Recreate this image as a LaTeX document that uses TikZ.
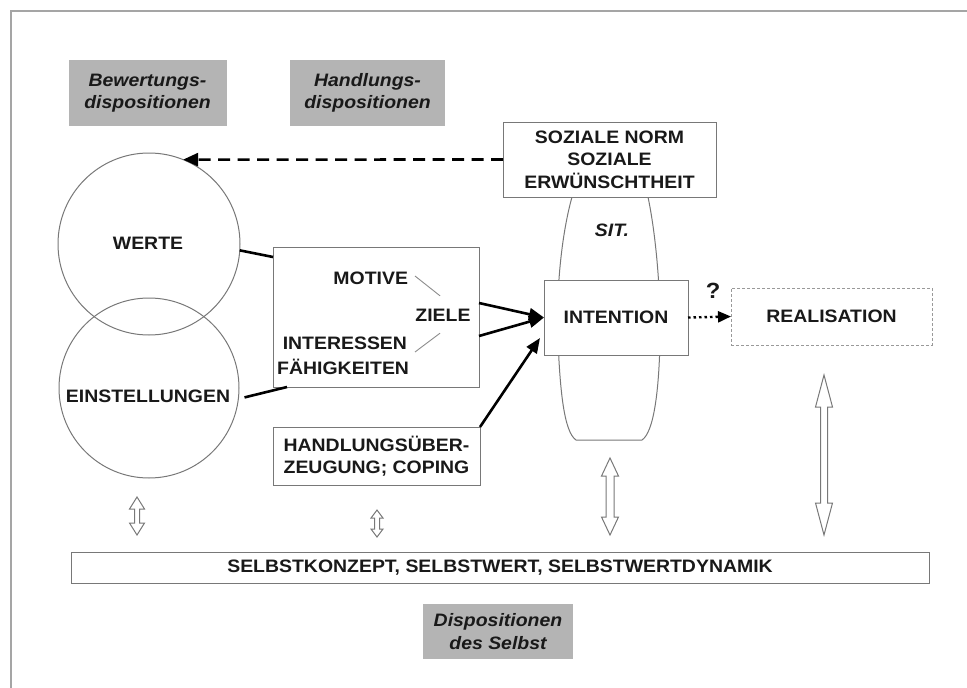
\documentclass[tikz,border=0pt]{standalone}
\usepackage{fontspec}
\setmainfont[FakeStretch=1.08]{Liberation Sans}
\usetikzlibrary{arrows.meta,calc}
\definecolor{lblgray}{RGB}{180,180,180}
\definecolor{edgegray}{RGB}{120,120,120}
\definecolor{framegray}{RGB}{165,165,165}
\definecolor{txt}{RGB}{25,25,25}
\newcommand{\hollowdarrow}[6]{%
  \draw[harrow] (#1,#2) -- ({#1+#5},{#2+#4}) -- ({#1+#6},{#2+#4}) -- ({#1+#6},{#3-#4}) -- ({#1+#5},{#3-#4})
    -- (#1,#3) -- ({#1-#5},{#3-#4}) -- ({#1-#6},{#3-#4}) -- ({#1-#6},{#2+#4}) -- ({#1-#5},{#2+#4}) -- cycle;}
\begin{document}
\begin{tikzpicture}[x=1pt,y=-1pt,
  every node/.style={inner sep=0pt,outer sep=0pt,text=txt},
  capfont/.style={font=\bfseries\fontsize{18}{22.5}\selectfont},
  lbl/.style={fill=lblgray,align=center,font=\bfseries\itshape\fontsize{18}{22.5}\selectfont},
  box/.style={draw=edgegray,line width=1pt,fill=white,align=center,capfont},
  circ/.style={circle,draw=edgegray,line width=1pt},
  conn/.style={line width=2.6pt,black},
  arr/.style={conn,-{Triangle[length=15pt,width=12pt]}},
  harrow/.style={draw=edgegray,line width=1pt,fill=white,line join=miter},
  thinln/.style={draw=black!45,line width=0.9pt}]
\useasboundingbox (0,0) rectangle (967,688);
% frame
\draw[framegray,line width=2pt] (11,688) -- (11,11) -- (967,11);
% label boxes
\node[lbl,minimum width=158pt,minimum height=66pt] (bew) at (147.5,93) {Bewertungs-\\dispositionen};
\node[lbl,minimum width=155pt,minimum height=66pt] (hand) at (367.5,93) {Handlungs-\\dispositionen};
\node[lbl,minimum width=150pt,minimum height=55pt] (disp) at (498,631.5) {Dispositionen\\des Selbst};
% circles
\node[circ,minimum size=182pt] (w) at (149,244) {};
\node[circ,minimum size=180pt] (e) at (149,388) {};
\node[capfont] (wt) at (148,243) {WERTE};
\node[capfont] (et) at (148,396) {EINSTELLUNGEN};
% SIT lens
\draw[edgegray,line width=1pt] (572,197) .. controls (560,240) and (556,300) .. (558,340)
   .. controls (560,390) and (564,432) .. (576,440) -- (642,440)
   .. controls (654,432) and (659,390) .. (660,340)
   .. controls (661,300) and (657,240) .. (648,197);
\node[font=\bfseries\itshape\fontsize{18}{22.5}\selectfont] (sit) at (612,230) {SIT.};
% boxes
\node[box,minimum width=213pt,minimum height=75pt] (soz) at (609.5,159.5) {SOZIALE NORM\\SOZIALE\\ERWÜNSCHTHEIT};
\node[box,minimum width=206pt,minimum height=140pt] (mot) at (376,317) {};
\node[box,minimum width=207pt,minimum height=58pt] (hue) at (376.5,456) {HANDLUNGSÜBER-\\ZEUGUNG; COPING};
\node[box,minimum width=144pt,minimum height=75pt] (int) at (616,317.5) {INTENTION};
\node[box,draw=black!40,densely dashed,minimum width=201pt,minimum height=57pt] (real) at (831.5,316.5) {REALISATION};
\node[box,minimum width=858pt,minimum height=31pt] (selbst) at (500,567.5) {SELBSTKONZEPT, SELBSTWERT, SELBSTWERTDYNAMIK};
% texts inside motive box
\node[capfont,anchor=east] (motv) at (408,278) {MOTIVE};
\node[capfont] (ziele) at (443,315) {ZIELE};
\node[capfont,anchor=east] (inter) at (407,343) {INTERESSEN};
\node[capfont,anchor=east] (faeh) at (409,367) {FÄHIGKEITEN};
\draw[thinln] ($(motv.east)+(7,-2)$) -- ($(ziele.north)+(-3,-13)$);
\draw[thinln] ($(inter.east)+(8,9)$) -- ($(ziele.south)+(-3,12)$);
% connectors
\draw[conn] (w.-4) -- ($(mot.north west)+(0,10)$);
\draw[conn] ($(e.-6)+(6,0)$) -- ($(mot.south west)+(14,0)$);
\draw[arr] ($(mot.east)+(0,-14)$) -- (int.west);
\draw[arr] ($(mot.east)+(0,19)$) -- (int.west);
\draw[arr] (hue.north east) -- ($(int.south west)+(-4,-17)$);
\draw[conn,dash pattern=on 12pt off 7.5pt,-{Triangle[length=15pt,width=13pt]}] (soz.west) -- (w.68);
\draw[line width=2.4pt,dash pattern=on 2.5pt off 3pt,-{Triangle[length=13pt,width=11pt]}] (int.east) -- (real.west);
\node[font=\bfseries\fontsize{22}{24}\selectfont] (q) at (713,291) {?};
% hollow double arrows
\hollowdarrow{137}{497}{535}{12}{7.5}{2.5}
\hollowdarrow{377}{510}{537}{8}{6}{2.5}
\hollowdarrow{610}{458}{535}{18}{8.5}{4}
\hollowdarrow{824}{375}{535}{32}{8.5}{3.5}
\end{tikzpicture}
\end{document}
